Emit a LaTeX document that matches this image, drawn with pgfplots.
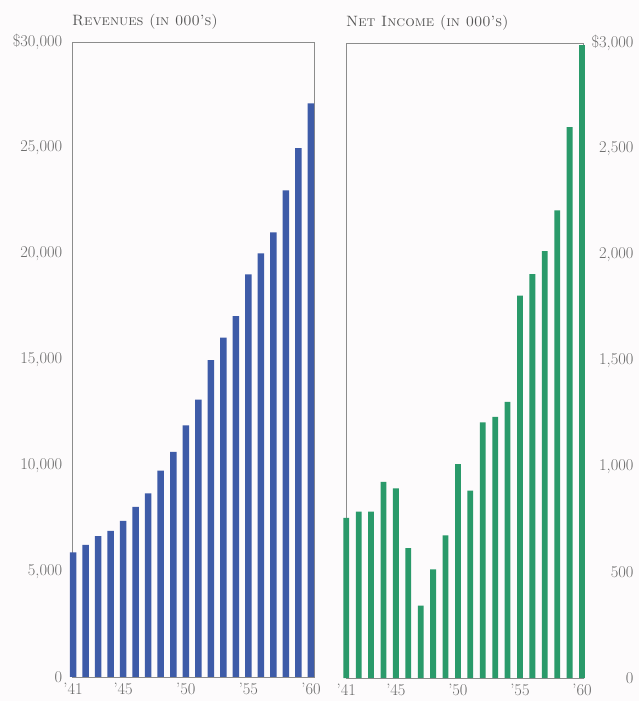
\documentclass[border=0pt]{standalone}
\usepackage{pgfplots}
\pgfplotsset{compat=1.18}

\definecolor{revblue}{HTML}{3E5BA8}
\definecolor{incgreen}{HTML}{2A9A6A}
\definecolor{titlegray}{HTML}{555555}
\definecolor{labelgray}{HTML}{6A6A6A}
\definecolor{framegray}{HTML}{8C8C8C}
\definecolor{paper}{HTML}{FDFBFC}

% revenues and net income, in thousands of dollars
\pgfplotstableread{
year rev inc
41 5890 757
42 6240 786
43 6660 786
44 6900 927
45 7370 896
46 8040 614
47 8670 342
48 9750 513
49 10640 674
50 11890 1011
51 13110 885
52 14970 1208
53 16030 1234
54 17050 1305
55 19020 1806
56 20010 1908
57 21000 2017
58 22990 2209
59 24990 2603
60 27100 2990
}\finances

\pgfplotsset{
  panel/.style={
    scale only axis,
    height=635bp,
    anchor=south west,
    ybar,
    ymin=0,
    clip=false,
    scaled y ticks=false,
    axis line style={framegray, line width=0.6bp},
    major tick length=0,
    tick label style={font=\fontsize{16.5}{19}\selectfont, text=labelgray},
    xtick={41,45,50,55,60},
    xticklabels={'41,'45,'50,'55,'60},
    xticklabel style={yshift=-3bp},
    title style={anchor=base west, at={(0,1)}, yshift=11bp,
      font=\fontsize{15}{18}\selectfont, text=titlegray},
  },
}

\begin{document}
\begin{tikzpicture}
\fill[paper] (0,0) rectangle (639bp,701bp);
\path[use as bounding box] (0,0) rectangle (639bp,701bp);

\begin{axis}[panel,
    at={(72.7bp,24bp)},
    width=241.3bp,
    xmin=40.97, xmax=60.24,
    ymax=30000,
    bar width=6.5bp,
    ytick={0,5000,...,30000},
    yticklabels={0,{5,000},{10,000},{15,000},{20,000},{25,000},{\$30,000}},
    yticklabel style={xshift=-7bp},
    title={\textsc{Revenues (in 000's)}},
    title style={xshift=-4bp},
  ]
  \addplot[fill=revblue, draw=none] table[x=year, y=rev] {\finances};
\end{axis}

\begin{axis}[panel,
    at={(346bp,23bp)},
    width=237bp,
    xmin=40.98, xmax=60.08,
    ymax=3000,
    bar width=5.8bp,
    ytick={0,500,...,3000},
    yticklabels={0,500,{1,000},{1,500},{2,000},{2,500},{\$3,000}},
    yticklabel pos=right,
    yticklabel style={anchor=east, xshift=54bp},
    title={\textsc{Net Income (in 000's)}},
    title style={xshift=-3.3bp},
  ]
  \addplot[fill=incgreen, draw=none] table[x=year, y=inc] {\finances};
\end{axis}
\end{tikzpicture}
\end{document}
